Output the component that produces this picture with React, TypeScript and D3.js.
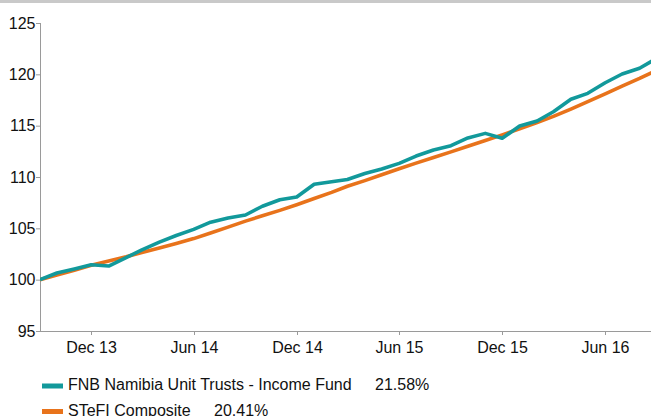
import React from "react";
import * as d3 from "d3";

const months: string[] = [
  "2013-09", "2013-10", "2013-11", "2013-12", "2014-01", "2014-02", "2014-03", "2014-04", "2014-05",
  "2014-06", "2014-07", "2014-08", "2014-09", "2014-10", "2014-11", "2014-12", "2015-01", "2015-02",
  "2015-03", "2015-04", "2015-05", "2015-06", "2015-07", "2015-08", "2015-09", "2015-10", "2015-11",
  "2015-12", "2016-01", "2016-02", "2016-03", "2016-04", "2016-05", "2016-06", "2016-07", "2016-08",
  "2016-09",
];

const fundValues: number[] = [
  100.0, 100.65, 101.05, 101.45, 101.33, 102.15, 102.9, 103.65, 104.3,
  104.9, 105.6, 106.0, 106.3, 107.15, 107.78, 108.05, 109.29, 109.54,
  109.75, 110.34, 110.78, 111.33, 112.04, 112.63, 113.05, 113.8, 114.25,
  113.77, 114.97, 115.45, 116.36, 117.57, 118.15, 119.18, 120.03, 120.59,
  121.58,
];

const stefiValues: number[] = [
  100.0, 100.45, 100.92, 101.4, 101.82, 102.23, 102.65, 103.08, 103.52,
  104.0, 104.55, 105.12, 105.7, 106.22, 106.75, 107.3, 107.9, 108.5,
  109.1, 109.65, 110.22, 110.8, 111.35, 111.9, 112.45, 113.0, 113.55,
  114.1, 114.7, 115.3, 115.9, 116.62, 117.35, 118.1, 118.85, 119.6,
  120.41,
];

const yTicks: number[] = [95, 100, 105, 110, 115, 120, 125];
const xTickDates: string[] = ["2013-12", "2014-06", "2014-12", "2015-06", "2015-12", "2016-06"];
const xTickLabels: string[] = ["Dec 13", "Jun 14", "Dec 14", "Jun 15", "Dec 15", "Jun 16"];

const seriesNames: string[] = ["FNB Namibia Unit Trusts - Income Fund", "STeFI Composite"];
const seriesReturns: string[] = ["21.58%", "20.41%"];
const seriesColors: string[] = ["#12999b", "#e8731b"];

const W = 651;
const H = 416;
const FONT = "'Liberation Sans', Arial, Helvetica, sans-serif";
const FS = 16;

const parse = d3.timeParse("%Y-%m");

export default function App() {
  const dates = months.map((m) => parse(m) as Date);
  const x = d3
    .scaleTime()
    .domain([dates[0], dates[dates.length - 1]])
    .range([40, 657]);
  const y = d3.scaleLinear().domain([95, 125]).range([331, 23]);

  const line = d3
    .line<number>()
    .x((_, i) => x(dates[i]))
    .y((v) => y(v));

  const axisColor = "#9a9a9a";
  const series = [fundValues, stefiValues];

  return (
    <svg
      width={W}
      height={H}
      style={{ position: "fixed", left: 0, top: 0, background: "#fff" }}
      fontFamily={FONT}
    >
      <rect x={0} y={0} width={W} height={3} fill="#c9c9c9" />
      <defs>
        <clipPath id="plot">
          <rect x={40} y={0} width={W - 40} height={331} />
        </clipPath>
      </defs>

      {/* y axis */}
      <line x1={40.5} x2={40.5} y1={y(125)} y2={331} stroke={axisColor} strokeWidth={1} />
      {yTicks.map((t) => (
        <g key={t}>
          <line x1={36} x2={40.5} y1={y(t) + 0.5} y2={y(t) + 0.5} stroke={axisColor} />
          <text x={35.5} y={y(t)} dy="0.35em" textAnchor="end" fontSize={FS} fill="#111">
            {t}
          </text>
        </g>
      ))}

      {/* x axis */}
      <line x1={40} x2={W} y1={331.5} y2={331.5} stroke={axisColor} strokeWidth={1} />
      {xTickDates.map((d, i) => {
        const xp = Math.round(x(parse(d) as Date)) + 0.5;
        return (
          <g key={d}>
            <line x1={xp} x2={xp} y1={331.5} y2={335} stroke={axisColor} />
            <text x={xp} y={353} textAnchor="middle" fontSize={FS} fill="#111">
              {xTickLabels[i]}
            </text>
          </g>
        );
      })}

      {/* lines: orange below, teal on top */}
      <g clipPath="url(#plot)">
        {[1, 0].map((si) => (
          <path
            key={si}
            d={line(series[si]) || ""}
            fill="none"
            stroke={seriesColors[si]}
            strokeWidth={3.6}
            strokeLinejoin="round"
          />
        ))}
      </g>

      {/* legend */}
      {seriesNames.map((name, i) => {
        const base = 390 + i * 25.5;
        return (
          <g key={name}>
            <rect x={42} y={base - 6.5} width={21} height={5} fill={seriesColors[i]} />
            <text x={68} y={base} fontSize={FS} fill="#111">
              {name}
            </text>
            <text x={i === 0 ? 375 : 214} y={base} fontSize={FS} fill="#111">
              {seriesReturns[i]}
            </text>
          </g>
        );
      })}
    </svg>
  );
}
